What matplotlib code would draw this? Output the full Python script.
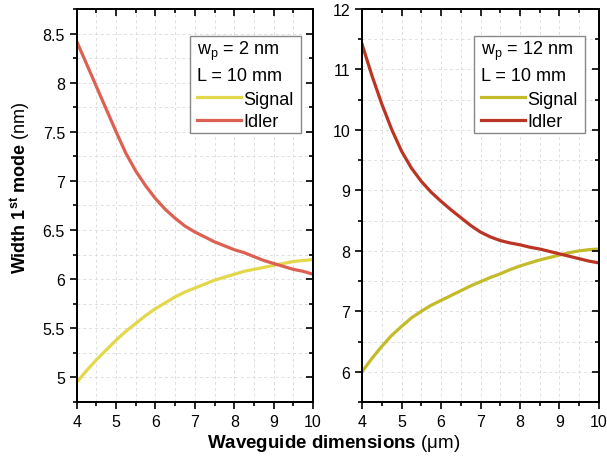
import matplotlib
matplotlib.use("Agg")
import matplotlib.pyplot as plt
from matplotlib.lines import Line2D
from matplotlib.path import Path
from matplotlib.ticker import MultipleLocator

plt.rcParams['font.family'] = ['Liberation Sans', 'DejaVu Sans']
plt.rcParams['mathtext.fontset'] = 'custom'
plt.rcParams['mathtext.rm'] = 'Liberation Sans'
plt.rcParams['mathtext.it'] = 'Liberation Sans:italic'
plt.rcParams['mathtext.bf'] = 'Liberation Sans:bold'

# Waveguide dimension (um)
width_um = [4.0, 4.25, 4.5, 4.75, 5.0, 5.25, 5.5, 5.75, 6.0, 6.25, 6.5, 6.75, 7.0,
            7.25, 7.5, 7.75, 8.0, 8.25, 8.5, 8.75, 9.0, 9.25, 9.5, 9.75, 10.0]

# Pump width 2 nm
signal_2nm = [4.95, 5.07, 5.18, 5.28, 5.38, 5.47, 5.55, 5.63, 5.70, 5.76, 5.82, 5.87, 5.91,
              5.95, 5.99, 6.02, 6.05, 6.08, 6.10, 6.12, 6.14, 6.16, 6.18, 6.19, 6.20]
idler_2nm = [8.42, 8.19, 7.96, 7.73, 7.50, 7.28, 7.10, 6.95, 6.82, 6.71, 6.62, 6.54, 6.48,
             6.43, 6.38, 6.34, 6.30, 6.27, 6.23, 6.19, 6.16, 6.13, 6.10, 6.08, 6.05]

# Pump width 12 nm
signal_12nm = [6.00, 6.22, 6.42, 6.60, 6.75, 6.89, 7.00, 7.10, 7.18, 7.26, 7.34, 7.42, 7.49,
               7.56, 7.62, 7.69, 7.75, 7.80, 7.85, 7.89, 7.93, 7.97, 8.00, 8.02, 8.03]
idler_12nm = [11.42, 10.90, 10.43, 10.01, 9.65, 9.37, 9.15, 8.97, 8.82, 8.68, 8.55, 8.42, 8.31,
              8.23, 8.17, 8.13, 8.10, 8.06, 8.03, 7.99, 7.95, 7.91, 7.87, 7.83, 7.80]

panels = [
    dict(signal=signal_2nm, idler=idler_2nm, wp="2", ylim=(4.75, 8.75),
         major=0.5, minor=0.25, sig_color="#e3d84c", idl_color="#dc6152",
         anchor=(0.930, 0.932)),
    dict(signal=signal_12nm, idler=idler_12nm, wp="12", ylim=(5.5, 12.0),
         major=1.0, minor=0.5, sig_color="#c4bb2b", idl_color="#bb3524",
         anchor=(0.922, 0.932)),
]

fig = plt.figure(figsize=(6.07, 4.60), dpi=100)
rects = [[0.1264, 0.1239, 0.3893, 0.8544], [0.5964, 0.1239, 0.3904, 0.8544]]
LW = 1.2


class WideBox:
    """Rectangular legend frame with extra horizontal padding (pixels)."""

    def __init__(self, dx):
        self.dx = dx

    def __call__(self, x0, y0, width, height, mutation_size):
        x0 -= self.dx
        x1 = x0 + width + 2 * self.dx
        y1 = y0 + height
        return Path([(x0, y0), (x1, y0), (x1, y1), (x0, y1), (x0, y0)], closed=True)


def style_ticks(axis_obj, major, minor):
    axis_obj.set_major_locator(MultipleLocator(major))
    axis_obj.set_minor_locator(MultipleLocator(minor))


for rect, p in zip(rects, panels):
    ax = fig.add_axes(rect)
    ax.plot(width_um, p["signal"], color=p["sig_color"], lw=2.3)
    ax.plot(width_um, p["idler"], color=p["idl_color"], lw=2.3)
    ax.set_xlim(4, 10)
    ax.set_ylim(*p["ylim"])
    style_ticks(ax.xaxis, 1, 0.5)
    style_ticks(ax.yaxis, p["major"], p["minor"])
    ax.yaxis.set_major_formatter(plt.FuncFormatter(lambda v, pos: f"{v:g}"))
    ax.grid(True, which='both', color='#dedede', ls=(0, (3, 3)), lw=0.7)
    ax.set_axisbelow(True)
    for s in ax.spines.values():
        s.set_linewidth(LW)
    ax.tick_params(which='both', direction='out', width=LW, labelsize=11.5,
                   top=False, right=False)
    ax.tick_params(which='major', length=5)
    ax.tick_params(which='minor', length=3)

    # inward ticks on the top and right spines
    axt = ax.twiny()
    axt.set_xlim(ax.get_xlim())
    style_ticks(axt.xaxis, 1, 0.5)
    axt.tick_params(which='both', direction='in', width=LW, labeltop=False)
    axt.tick_params(which='major', length=5)
    axt.tick_params(which='minor', length=3)
    axr = ax.twinx()
    axr.set_ylim(ax.get_ylim())
    style_ticks(axr.yaxis, p["major"], p["minor"])
    axr.tick_params(which='both', direction='in', width=LW, labelright=False)
    axr.tick_params(which='major', length=5)
    axr.tick_params(which='minor', length=3)
    for a in (axt, axr):
        for s in a.spines.values():
            s.set_linewidth(LW)

    handles = [Line2D([], [], color=p["sig_color"], lw=2.3),
               Line2D([], [], color=p["idl_color"], lw=2.3)]
    leg = axr.legend(handles, ["Signal", "Idler"],
                     title=f"w$_\\mathregular{{p}}$ = {p['wp']} nm\nL = 10 mm",
                     alignment='left', loc='upper right',
                     bbox_to_anchor=p["anchor"], borderaxespad=0,
                     fontsize=13, title_fontsize=13, frameon=True, fancybox=False,
                     edgecolor='#888888', framealpha=1, borderpad=0.15,
                     labelspacing=0.3, handlelength=2.4, handletextpad=0.15)
    leg.get_frame().set_linewidth(1.0)
    leg.get_frame().set_boxstyle(WideBox(4.5))
    leg.get_title().set_linespacing(1.4)
    leg._legend_box.sep = 5

fig.text(0.033, 0.592, r"$\mathbf{Width\ 1^{st}\ mode}$ (nm)", rotation=90,
         ha='center', va='center', fontsize=13)
fig.text(0.55, 0.012, r"$\mathbf{Waveguide\ dimensions}$ (μm)", ha='center',
         va='bottom', fontsize=13.5)

fig.savefig("out.png", dpi=100)
